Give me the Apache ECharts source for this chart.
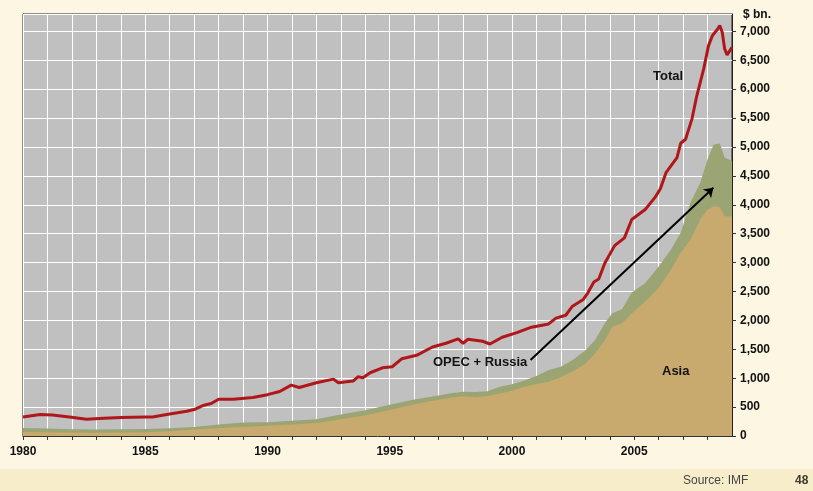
<!DOCTYPE html>
<html>
<head>
<meta charset="utf-8">
<script src="https://cdn.jsdelivr.net/npm/echarts@6/dist/echarts.min.js"></script>
<style>
  html, body { margin: 0; padding: 0; background: #FCF6E2; }
  #chart { width: 813px; height: 491px; }
</style>
</head>
<body>
<div id="chart"></div>
<script>
// reserves, $ bn.
var areaYears = [1980, 1981, 1982, 1983, 1984, 1985, 1986, 1987, 1988, 1989, 1990, 1991, 1992, 1993, 1994,
  1995, 1996, 1997, 1997.5, 1998, 1998.5, 1999, 1999.5, 2000, 2000.5, 2001, 2001.5, 2002, 2002.5, 2003,
  2003.4, 2003.8, 2004.1, 2004.5, 2004.9, 2005.45, 2006, 2006.5, 2006.9, 2007.3, 2007.7, 2008, 2008.25,
  2008.5, 2008.7, 2009];
var asia = [69, 65, 59, 55, 60, 65, 82, 111, 139, 156, 178, 200, 226, 290, 359,
  450, 550, 625, 660, 689, 670, 690, 736, 781, 850, 900, 937, 1020, 1120, 1250,
  1430, 1661, 1892, 1951, 2125, 2326, 2559, 2877, 3166, 3398, 3745, 3918, 3975,
  3960, 3802, 3800];
var opecRussia = [70, 65, 59, 57, 58, 55, 52, 45, 59, 77, 62, 65, 64, 80, 87,
  90, 82, 75, 80, 75, 90, 85, 115, 116, 110, 140, 204, 180, 200, 230,
  231, 290, 233, 243, 357, 320, 375, 347, 348, 636, 637, 868, 1069,
  1100, 1014, 957];

var totalYears = [1980, 1980.7, 1981.2, 1981.9, 1982.6, 1983.3, 1984, 1985, 1985.3, 1986, 1986.7, 1987,
  1987.4, 1987.7, 1988, 1988.6, 1989.4, 1990, 1990.5, 1990.97, 1991.3, 1992, 1992.7, 1992.9, 1993.5,
  1993.7, 1993.9, 1994.2, 1994.7, 1995.1, 1995.5, 1996.1, 1996.75, 1997.3, 1997.8, 1998, 1998.2, 1998.8,
  1999.1, 1999.6, 2000.2, 2000.8, 2001.5, 2001.8, 2002.2, 2002.46, 2002.9, 2003.1, 2003.35, 2003.55,
  2003.8, 2004.2, 2004.6, 2004.9, 2005.45, 2005.86, 2006.07, 2006.3, 2006.75, 2006.9, 2007.1, 2007.36,
  2007.56, 2007.84, 2008.04, 2008.2, 2008.4, 2008.5, 2008.6, 2008.7, 2008.8, 2009];
var total = [330, 371, 365, 330, 290, 307, 319, 330, 330, 382, 429, 458,
  533, 562, 637, 637, 666, 715, 770, 880, 840, 920, 984, 920, 950,
  1024, 1007, 1094, 1180, 1198, 1337, 1396, 1540, 1604, 1679, 1604, 1673, 1639,
  1592, 1708, 1788, 1882, 1939, 2038, 2089, 2239, 2356, 2472, 2663, 2715,
  2993, 3293, 3427, 3745, 3918, 4132, 4278, 4555, 4816, 5064, 5133, 5481,
  5885, 6347, 6753, 6927, 7031, 7100, 6986, 6696, 6592, 6725];

var xTickLabels = [1980, 1985, 1990, 1995, 2000, 2005];

function pairs(xs, ys) {
  return xs.map(function (x, i) { return [x, ys[i]]; });
}
// green band sits on top of Asia
var asiaPlusOpec = asia.map(function (v, i) { return v + opecRussia[i]; });

var chart = echarts.init(document.getElementById('chart'));
var bold = { fontFamily: 'Liberation Sans, Arial', fontWeight: 'bold', fontSize: 12, color: '#111' };

chart.setOption({
  animation: false,
  backgroundColor: '#FCF6E2',
  grid: {
    left: 23, right: 81, top: 14, bottom: 55,
    show: true, backgroundColor: '#C0C0C0', borderColor: '#222', borderWidth: 1
  },
  xAxis: {
    type: 'value', min: 1980, max: 2009, interval: 1,
    axisLine: { lineStyle: { color: '#333', width: 1 } },
    axisTick: { inside: false, length: 4, lineStyle: { color: '#333' } },
    splitLine: { lineStyle: { color: '#fff', width: 1 } },
    axisLabel: Object.assign({
      margin: 10,
      showMaxLabel: false,
      formatter: function (v) { return xTickLabels.indexOf(v) >= 0 ? String(v) : ''; }
    }, bold)
  },
  yAxis: {
    type: 'value', position: 'right', min: 0, max: 7300, interval: 500,
    axisLine: { show: true, lineStyle: { color: '#222', width: 1 } },
    axisTick: { show: true, inside: false, length: 4, lineStyle: { color: '#333' } },
    splitLine: { lineStyle: { color: '#fff', width: 1 } },
    axisLabel: Object.assign({
      margin: 8,
      showMaxLabel: false,
      formatter: function (v) { return v.toLocaleString('en-US'); }
    }, bold)
  },
  series: [
    {
      name: 'OPEC + Russia', type: 'line', data: pairs(areaYears, asiaPlusOpec),
      showSymbol: false, lineStyle: { width: 0 },
      areaStyle: { color: '#9BA473', opacity: 1 }, z: 1
    },
    {
      name: 'Asia', type: 'line', data: pairs(areaYears, asia),
      showSymbol: false, lineStyle: { width: 0 },
      areaStyle: { color: '#C8A96E', opacity: 1 }, z: 2
    },
    {
      name: 'Total', type: 'line', data: pairs(totalYears, total),
      showSymbol: false, lineStyle: { color: '#B0171A', width: 3 }, z: 5,
      markLine: {
        silent: true, symbol: ['none', 'arrow'], symbolSize: 9,
        label: { show: false },
        lineStyle: { color: '#000', width: 2, type: 'solid' },
        data: [[{ coord: [2000.76, 1314] }, { coord: [2008.24, 4295] }]]
      }
    }
  ],
  graphic: [
    { type: 'rect', left: 0, top: 469, shape: { width: 813, height: 22 }, style: { fill: '#F8EDCB' } },
    { type: 'text', left: 683, top: 475, style: { text: 'Source: IMF', font: '12px Liberation Sans, Arial', fill: '#444' } },
    { type: 'text', left: 795, top: 475, style: { text: '48', font: 'bold 12px Liberation Sans, Arial', fill: '#3b3b2b' } },
    { type: 'text', left: 743, top: 9, style: { text: '$ bn.', font: 'bold 12px Liberation Sans, Arial', fill: '#111' } },
    { type: 'text', left: 653, top: 70, z: 10, style: { text: 'Total', font: 'bold 13px Liberation Sans, Arial', fill: '#111' } },
    { type: 'text', left: 433, top: 356, z: 10, style: { text: 'OPEC + Russia', font: 'bold 13px Liberation Sans, Arial', fill: '#111' } },
    { type: 'text', left: 662, top: 365, z: 10, style: { text: 'Asia', font: 'bold 13px Liberation Sans, Arial', fill: '#111' } }
  ]
});
</script>
</body>
</html>
